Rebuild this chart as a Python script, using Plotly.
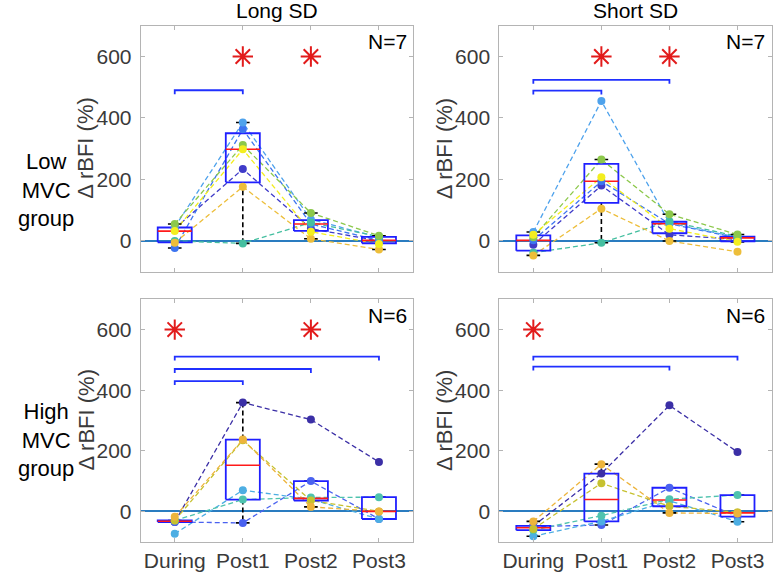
import plotly.graph_objects as go

# ---------------- data ----------------
categories = ["During", "Post1", "Post2", "Post3"]
yticks = [0, 200, 400, 600]

# Low MVC group (N=7), one row per subject, values at During, Post1, Post2, Post3
low_long_sd = [
    [40, 234, 40, 0],
    [-23, 363, 55, 2],
    [45, 385, 70, 12],
    [0, -8, 60, 14],
    [55, 312, 91, 17],
    [-6, 176, 7, -28],
    [32, 298, 30, -10],
]
low_short_sd = [
    [-12, 180, 20, 5],
    [2, 194, 56, 10],
    [29, 455, 58, 12],
    [-38, -6, 64, 15],
    [12, 265, 87, 21],
    [-47, 105, 0, -35],
    [20, 207, 40, -3],
]
# High MVC group (N=6)
high_long_sd = [
    [-35, 359, 303, 163],
    [-35, -38, 100, -25],
    [-74, 70, 40, -25],
    [-30, 39, 46, 47],
    [-30, 235, 36, 0],
    [-18, 237, 15, 0],
]
high_short_sd = [
    [-48, 125, 350, 196],
    [-50, -45, 78, -17],
    [-82, -33, 35, -34],
    [-62, -14, 40, 54],
    [-58, 93, 17, -3],
    [-33, 156, -5, -7],
]

# significance markers
stars_low_long = ["Post1", "Post2"]
stars_low_short = ["Post1", "Post2"]
stars_high_long = ["During", "Post2"]
stars_high_short = ["During"]
star_level = 600

# brackets: (from, to, height)
brackets_low_long = [("During", "Post1", 490)]
brackets_low_short = [("During", "Post1", 489), ("During", "Post2", 524)]
brackets_high_long = [("During", "Post1", 430), ("During", "Post2", 470), ("During", "Post3", 511)]
brackets_high_short = [("During", "Post2", 478), ("During", "Post3", 511)]

n_low = "N=7"
n_high = "N=6"

# ---------------- styles ----------------
colors_low = ["#3F3BC9", "#3C74F0", "#4EA2EC", "#45BFA0", "#8CC84B", "#EDBE3A", "#F3EE1F"]
colors_high = ["#3B2FA6", "#4A62F0", "#4DAEE3", "#4FC3AE", "#C6C12F", "#EDB43C"]
FONT = "Liberation Sans, Arial, sans-serif"
AX_COL = "#b4b4b4"
TXT_COL = "#3a3a3a"
BOX_COL = "#1f1fff"
MED_COL = "#ff1a1a"
BRK_COL = "#2030ff"
STAR_COL = "#e21b1b"
ZERO_COL = "#2a7cc0"
BOX_HALF = 0.25
CAP_HALF = 0.1
BRACKET_DROP = 13

W, H = 775, 573


def prctile(vals, p):
    x = sorted(vals)
    n = len(x)
    pos = [(i + 0.5) / n for i in range(n)]
    q = p / 100.0
    if q <= pos[0]:
        return x[0]
    if q >= pos[-1]:
        return x[-1]
    for i in range(n - 1):
        if pos[i] <= q <= pos[i + 1]:
            return x[i] + (q - pos[i]) / (pos[i + 1] - pos[i]) * (x[i + 1] - x[i])


def box_stats(vals):
    q1 = prctile(vals, 25)
    med = prctile(vals, 50)
    q3 = prctile(vals, 75)
    iqr = q3 - q1
    up = max([v for v in vals if v <= q3 + 1.5 * iqr] + [q3])
    lo = min([v for v in vals if v >= q1 - 1.5 * iqr] + [q1])
    return q1, med, q3, lo, up


fig = go.Figure()

px = lambda v: v / W
py = lambda v: 1 - v / H

x_domains = [[px(140.7), px(413.0)], [px(499.3), px(771.5)]]
y_domains = [[py(271.7), py(25.7)], [py(541.7), py(299.3)]]

panels = [
    (low_long_sd, colors_low, 0, 0, brackets_low_long, stars_low_long, n_low),
    (low_short_sd, colors_low, 0, 1, brackets_low_short, stars_low_short, n_low),
    (high_long_sd, colors_high, 1, 0, brackets_high_long, stars_high_long, n_high),
    (high_short_sd, colors_high, 1, 1, brackets_high_short, stars_high_short, n_high),
]

xpos = {c: i + 1 for i, c in enumerate(categories)}

for k, (data, cols, r, c, brackets, stars, ntxt) in enumerate(panels):
    idx = "" if k == 0 else str(k + 1)
    xa, ya = "x" + idx, "y" + idx

    # subject dashed lines
    for s, row in enumerate(data):
        fig.add_trace(go.Scatter(
            x=[xpos[cat] for cat in categories], y=row, mode="lines",
            line=dict(color=cols[s], width=1.3, dash="5px,3px"),
            xaxis=xa, yaxis=ya, showlegend=False, hoverinfo="skip"))

    # boxplots
    wx, wy, cx, cy, bx, by, mx, my = [], [], [], [], [], [], [], []
    for j, cat in enumerate(categories):
        vals = [row[j] for row in data]
        q1, med, q3, lo, up = box_stats(vals)
        p = xpos[cat]
        wx += [p, p, None, p, p, None]
        wy += [q3, up, None, q1, lo, None]
        cx += [p - CAP_HALF, p + CAP_HALF, None, p - CAP_HALF, p + CAP_HALF, None]
        cy += [up, up, None, lo, lo, None]
        bx += [p - BOX_HALF, p + BOX_HALF, p + BOX_HALF, p - BOX_HALF, p - BOX_HALF, None]
        by += [q1, q1, q3, q3, q1, None]
        mx += [p - BOX_HALF, p + BOX_HALF, None]
        my += [med, med, None]
    fig.add_trace(go.Scatter(x=wx, y=wy, mode="lines", line=dict(color="black", width=1.6, dash="5px,3px"),
                             xaxis=xa, yaxis=ya, showlegend=False, hoverinfo="skip"))
    fig.add_trace(go.Scatter(x=cx, y=cy, mode="lines", line=dict(color="black", width=1.6),
                             xaxis=xa, yaxis=ya, showlegend=False, hoverinfo="skip"))
    fig.add_trace(go.Scatter(x=bx, y=by, mode="lines", line=dict(color=BOX_COL, width=1.8),
                             xaxis=xa, yaxis=ya, showlegend=False, hoverinfo="skip"))
    fig.add_trace(go.Scatter(x=mx, y=my, mode="lines", line=dict(color=MED_COL, width=1.6),
                             xaxis=xa, yaxis=ya, showlegend=False, hoverinfo="skip"))

    # subject markers
    for s, row in enumerate(data):
        fig.add_trace(go.Scatter(
            x=[xpos[cat] for cat in categories], y=row, mode="markers",
            marker=dict(color=cols[s], size=8),
            xaxis=xa, yaxis=ya, showlegend=False, hoverinfo="skip"))

    # brackets
    brx, bry = [], []
    for a, b, h in brackets:
        brx += [xpos[a], xpos[a], xpos[b], xpos[b], None]
        bry += [h - BRACKET_DROP, h, h, h - BRACKET_DROP, None]
    fig.add_trace(go.Scatter(x=brx, y=bry, mode="lines", line=dict(color=BRK_COL, width=1.8),
                             xaxis=xa, yaxis=ya, showlegend=False, hoverinfo="skip"))

    # stars
    fig.add_trace(go.Scatter(
        x=[xpos[sname] for sname in stars], y=[star_level] * len(stars), mode="markers",
        marker=dict(symbol="asterisk-open", size=17, color=STAR_COL,
                    line=dict(color=STAR_COL, width=2)),
        xaxis=xa, yaxis=ya, showlegend=False, hoverinfo="skip"))

    # N label
    fig.add_annotation(text=ntxt, xref=xa + " domain", yref=ya + " domain", x=0.985, y=0.935,
                       xanchor="right", yanchor="middle", showarrow=False,
                       font=dict(family=FONT, size=21, color="black"))

    axis_common = dict(showline=True, linecolor=AX_COL, linewidth=1, mirror="ticks",
                       ticks="inside", ticklen=4, tickcolor=AX_COL, showgrid=False,
                       tickfont=dict(family=FONT, size=21, color=TXT_COL))
    fig.layout["xaxis" + idx] = dict(
        domain=x_domains[c], anchor=ya, range=[0.5, 4.5],
        tickvals=[xpos[cat] for cat in categories], ticktext=categories,
        showticklabels=(r == 1), zeroline=False, **axis_common)
    fig.layout["yaxis" + idx] = dict(
        domain=y_domains[r], anchor=xa, range=[-100, 700], tickvals=yticks,
        zeroline=True, zerolinecolor=ZERO_COL, zerolinewidth=1.5, ticklabelstandoff=4, **axis_common)

    # y-axis title
    fig.add_annotation(text="\u0394 rBFI (%)", xref="paper", yref="paper",
                       x=px(86 + (358.6 if c == 1 else 0)), y=sum(y_domains[r]) / 2,
                       textangle=-90, showarrow=False, xanchor="center", yanchor="middle",
                       font=dict(family=FONT, size=22, color=TXT_COL))

# column titles
fig.add_annotation(text="Long SD", xref="paper", yref="paper", x=sum(x_domains[0]) / 2, y=py(10),
                   showarrow=False, xanchor="center", yanchor="middle",
                   font=dict(family=FONT, size=21, color="black"))
fig.add_annotation(text="Short SD", xref="paper", yref="paper", x=sum(x_domains[1]) / 2, y=py(10),
                   showarrow=False, xanchor="center", yanchor="middle",
                   font=dict(family=FONT, size=21, color="black"))
# row labels
fig.add_annotation(text="Low<br>MVC<br>group", xref="paper", yref="paper", x=px(46), y=py(190),
                   showarrow=False, xanchor="center", yanchor="middle", align="center",
                   font=dict(family=FONT, size=22, color="black"))
fig.add_annotation(text="High<br>MVC<br>group", xref="paper", yref="paper", x=px(46), y=py(440),
                   showarrow=False, xanchor="center", yanchor="middle", align="center",
                   font=dict(family=FONT, size=22, color="black"))

fig.update_layout(width=W, height=H, margin=dict(l=0, r=0, t=0, b=0),
                  paper_bgcolor="white", plot_bgcolor="white", showlegend=False)

fig.write_html("out.html", config={"displayModeBar": False},
               post_script="document.body.style.margin='0';")
